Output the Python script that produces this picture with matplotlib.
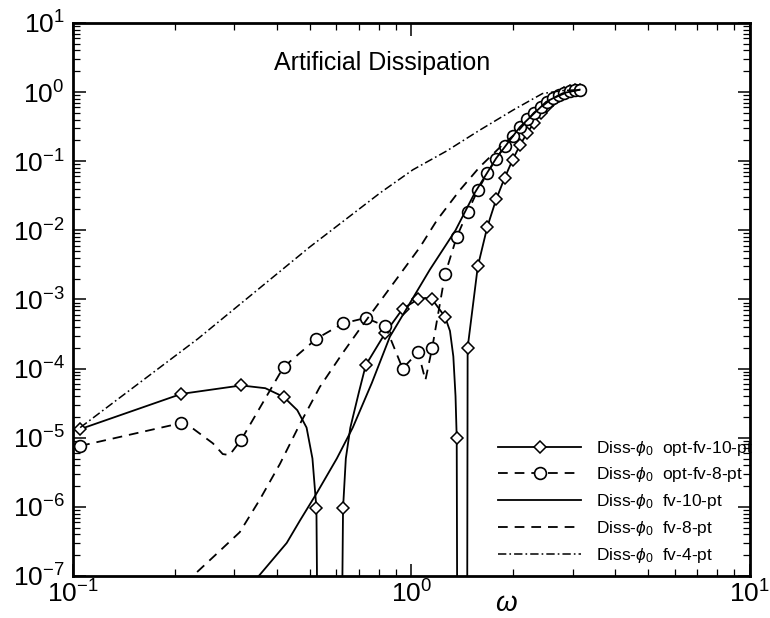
import numpy as np
import matplotlib
matplotlib.use("Agg")
import matplotlib.pyplot as plt
from matplotlib.lines import Line2D

plt.rcParams['font.family'] = ['Liberation Sans', 'DejaVu Sans']
plt.rcParams['mathtext.fontset'] = 'custom'
plt.rcParams['mathtext.rm'] = 'Liberation Sans'
plt.rcParams['mathtext.it'] = 'Liberation Sans:italic'
plt.rcParams['lines.scale_dashes'] = False

# marker positions (omega) and values
w_mk = [0.105, 0.209, 0.314, 0.419, 0.524, 0.628, 0.733, 0.838, 0.942, 1.047,
        1.152, 1.257, 1.361, 1.466, 1.571, 1.676, 1.780, 1.885, 1.990, 2.094,
        2.199, 2.304, 2.409, 2.513, 2.618, 2.723, 2.827, 2.932, 3.037, 3.142]
opt10_mk = [1.33e-5, 4.3e-5, 5.7e-5, 3.9e-5, 9.5e-7, 9.5e-7, 1.12e-4, 3.3e-4, 7.3e-4, 1.01e-3,
            1.0e-3, 5.6e-4, 1.0e-5, 2.0e-4, 3.0e-3, 1.12e-2, 2.8e-2, 5.7e-2, 0.104, 0.171,
            0.257, 0.357, 0.50, 0.63, 0.77, 0.88, 0.97, 1.03, 1.08, 1.08]
opt8_mk = [7.6e-6, 1.63e-5, 9.3e-6, 1.05e-4, 2.7e-4, 4.5e-4, 5.4e-4, 4.1e-4, 1.0e-4, 1.73e-4,
           2.0e-4, 2.3e-3, 8.0e-3, 1.84e-2, 3.8e-2, 6.7e-2, 0.108, 0.166, 0.23, 0.31,
           0.41, 0.50, 0.61, 0.72, 0.82, 0.91, 0.97, 1.04, 1.08, 1.08]

# line traces (marker points plus extra points)
w_opt10 = [0.105, 0.209, 0.314, 0.37, 0.419, 0.46, 0.49, 0.51, 0.524, 0.53,
           0.62, 0.628, 0.64, 0.66, 0.70, 0.733, 0.838, 0.942, 1.047, 1.10,
           1.152, 1.257, 1.30, 1.33, 1.35, 1.361, 1.368, 1.46, 1.466, 1.571,
           1.676, 1.780, 1.885, 1.990, 2.094, 2.199, 2.304, 2.409, 2.513, 2.618,
           2.723, 2.827, 2.932, 3.037, 3.142]
d_opt10 = [1.33e-5, 4.3e-5, 5.7e-5, 5.2e-5, 3.9e-5, 2.5e-5, 1.4e-5, 5e-6, 9.5e-7, 1e-9,
           1e-9, 9.5e-7, 5e-6, 1.4e-5, 4.6e-5, 1.12e-4, 3.3e-4, 7.3e-4, 1.01e-3, 1.05e-3,
           1.0e-3, 5.6e-4, 3.5e-4, 1.5e-4, 4e-5, 1.0e-5, 1e-9, 1e-9, 2.0e-4, 3.0e-3,
           1.12e-2, 2.8e-2, 5.7e-2, 0.104, 0.171, 0.257, 0.357, 0.50, 0.63, 0.77,
           0.88, 0.97, 1.03, 1.08, 1.08]

w_opt8 = [0.105, 0.209, 0.226, 0.259, 0.277, 0.29, 0.314, 0.419, 0.524, 0.628,
          0.733, 0.838, 0.942, 1.047, 1.10, 1.152, 1.257, 1.361, 1.466, 1.571,
          1.676, 1.780, 1.885, 1.990, 2.094, 2.199, 2.304, 2.409, 2.513, 2.618,
          2.723, 2.827, 2.932, 3.037, 3.142]
d_opt8 = [7.6e-6, 1.63e-5, 1.36e-5, 8.3e-6, 5.8e-6, 5.6e-6, 9.3e-6, 1.05e-4, 2.7e-4, 4.5e-4,
          5.4e-4, 4.1e-4, 1.0e-4, 1.73e-4, 6.8e-5, 2.0e-4, 2.3e-3, 8.0e-3, 1.84e-2, 3.8e-2,
          6.7e-2, 0.108, 0.166, 0.23, 0.31, 0.41, 0.50, 0.61, 0.72, 0.82,
          0.91, 0.97, 1.04, 1.08, 1.08]

w_fv10 = [0.33, 0.354, 0.428, 0.469, 0.526, 0.602, 0.671, 0.764, 0.864, 1.134,
          1.35, 1.54, 1.78, 2.09, 2.5, 2.8, 3.142]
d_fv10 = [4e-8, 1e-7, 3.0e-7, 6.4e-7, 1.6e-6, 5.0e-6, 1.4e-5, 6.2e-5, 2.9e-4, 2.7e-3,
          1.0e-2, 3.5e-2, 0.11, 0.31, 0.72, 0.96, 1.08]

w_fv8 = [0.20, 0.226, 0.266, 0.311, 0.356, 0.409, 0.469, 0.536, 0.625, 0.70,
         1.06, 1.19, 1.39, 1.59, 1.83, 2.05, 2.3, 2.6, 2.9, 3.142]
d_fv8 = [5e-8, 1e-7, 2.1e-7, 4.3e-7, 1.26e-6, 4.2e-6, 1.6e-5, 5.4e-5, 1.65e-4, 3.6e-4,
         5.7e-3, 1.4e-2, 3.8e-2, 8.2e-2, 0.16, 0.26, 0.5, 0.8, 1.0, 1.08]

w_fv4 = [0.105, 0.234, 0.50, 0.81, 1.01, 1.27, 1.59, 2.0, 2.44, 2.8, 3.142]
d_fv4 = [1.4e-5, 2.7e-4, 5.7e-3, 3.5e-2, 0.075, 0.14, 0.28, 0.55, 0.95, 1.05, 1.08]

labels = [r'Diss-$\phi_0$  opt-fv-10-pt', r'Diss-$\phi_0$  opt-fv-8-pt',
          r'Diss-$\phi_0$  fv-10-pt', r'Diss-$\phi_0$  fv-8-pt', r'Diss-$\phi_0$  fv-4-pt']

dash = (0, (7, 5))
dashdot = (0, (6, 2.2, 1.2, 2.2))
lw = 1.3

fig = plt.figure(figsize=(7.7, 6.18), dpi=100)
ax = fig.add_axes([0.0948, 0.068, 0.879, 0.895])

ax.plot(w_opt10, d_opt10, color='k', lw=lw, ls='-')
ax.plot(w_mk, opt10_mk, ls='none', marker='D', ms=6, mfc='white', mec='k', mew=1.1)
ax.plot(w_opt8, d_opt8, color='k', lw=lw, ls=dash)
ax.plot(w_mk, opt8_mk, ls='none', marker='o', ms=8.5, mfc='white', mec='k', mew=1.2)
ax.plot(w_fv10, d_fv10, color='k', lw=lw, ls='-')
ax.plot(w_fv8, d_fv8, color='k', lw=lw, ls=dash)
ax.plot(w_fv4, d_fv4, color='k', lw=1.1, ls=dashdot)

ax.set_xscale('log')
ax.set_yscale('log')
ax.set_xlim(1e-1, 1e1)
ax.set_ylim(1e-7, 1e1)

ax.tick_params(which='both', direction='in', top=True, right=True, labelsize=19)
ax.tick_params(which='major', length=9, width=1.1)
ax.tick_params(axis='x', which='major', pad=3)
ax.tick_params(axis='y', which='major', pad=6)
ax.tick_params(which='minor', length=5, width=0.9)
ax.yaxis.set_major_locator(matplotlib.ticker.LogLocator(base=10, numticks=20))
ax.yaxis.set_minor_locator(matplotlib.ticker.LogLocator(base=10, subs=np.arange(2, 10), numticks=20))
ax.xaxis.set_minor_formatter(matplotlib.ticker.NullFormatter())
ax.yaxis.set_minor_formatter(matplotlib.ticker.NullFormatter())
for s in ax.spines.values():
    s.set_linewidth(2)

ax.set_xlabel(r'$\omega$', fontsize=20)
ax.xaxis.set_label_coords(0.64, -0.028)

ax.text(0.457, 0.928, 'Artificial Dissipation', transform=ax.transAxes,
        ha='center', va='center', fontsize=18)

handles = [
    Line2D([], [], color='k', lw=lw, ls='-', marker='D', ms=6, mfc='white', mec='k', mew=1.1),
    Line2D([], [], color='k', lw=lw, ls=dash, marker='o', ms=8.5, mfc='white', mec='k', mew=1.2),
    Line2D([], [], color='k', lw=lw, ls='-'),
    Line2D([], [], color='k', lw=lw, ls=dash),
    Line2D([], [], color='k', lw=1.1, ls=dashdot),
]
ax.legend(handles, labels, loc='lower left', bbox_to_anchor=(0.628, 0.02),
          frameon=False, fontsize=12.5, numpoints=1, handlelength=4.8,
          handletextpad=0.85, labelspacing=0.45, borderpad=0, borderaxespad=0)

fig.savefig('out.png', dpi=100)
